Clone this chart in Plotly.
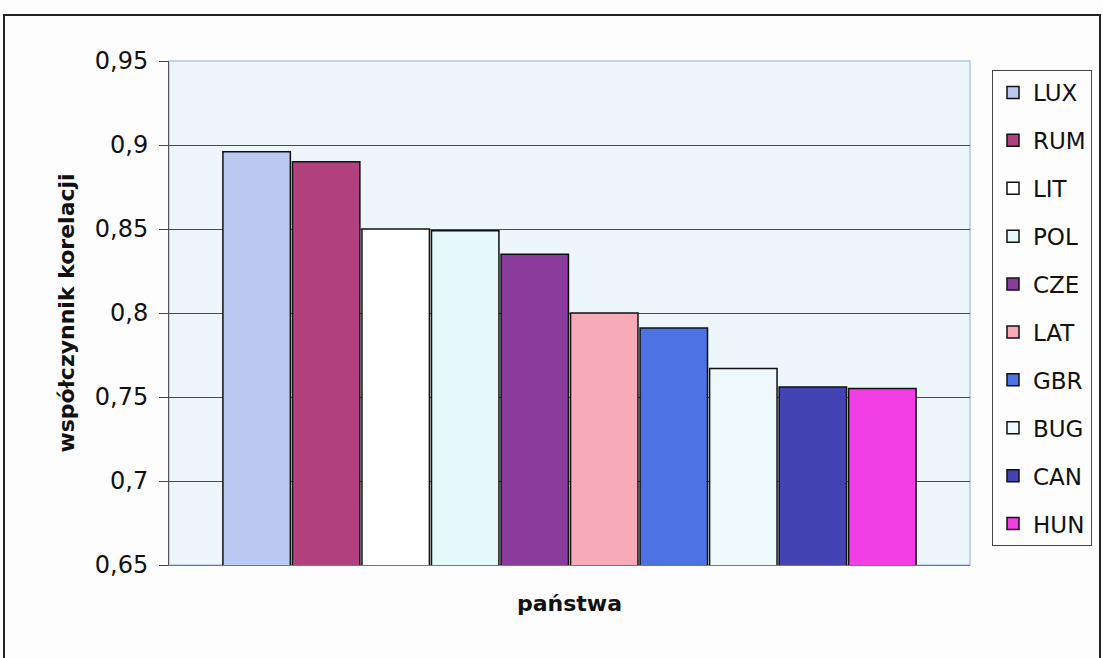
import plotly.graph_objects as go

# Correlation coefficient per country
countries = ["LUX", "RUM", "LIT", "POL", "CZE", "LAT", "GBR", "BUG", "CAN", "HUN"]
values = [0.896, 0.890, 0.850, 0.849, 0.835, 0.800, 0.791, 0.767, 0.756, 0.755]
colors = ["#b9c9f1", "#b1427f", "#ffffff", "#e6f9fa", "#8a3b9b",
          "#f7aab8", "#4d72e3", "#eef9fb", "#4343b3", "#f23fe3"]

y_ticks = [0.65, 0.7, 0.75, 0.8, 0.85, 0.9, 0.95]

fig = go.Figure()
for name, val, col in zip(countries, values, colors):
    fig.add_trace(go.Bar(
        x=["państwa"], y=[val], name=name, legendgroup=name,
        marker=dict(color=col, line=dict(color="#111111", width=1.5)),
    ))

W, H = 1103, 658
L, R, T, B = 169, 970, 61, 565

def px_x(p):
    return (p - L) / (R - L)

def px_y(p):
    return (B - p) / (B - T)

FONT = "DejaVu Sans, Arial, sans-serif"

fig.update_layout(
    width=W, height=H,
    margin=dict(l=L, r=W - R, t=T, b=H - B),
    paper_bgcolor="#fdfdfd",
    plot_bgcolor="#ecf6fb",
    separators=", ",
    barmode="group",
    bargap=0.132,
    bargroupgap=0.03,
    font=dict(family=FONT, size=24, color="#111111"),
    showlegend=True,
    legend=dict(
        xref="container", yref="container",
        x=992 / W, y=1 - 70 / H, xanchor="left", yanchor="top",
        bgcolor="#fdfdfd", bordercolor="#444444", borderwidth=1,
        font=dict(size=23), tracegroupgap=15, itemwidth=30,
        maxheight=560,
    ),
    xaxis=dict(
        showticklabels=False, ticks="", showgrid=False,
        showline=True, linecolor="#777777", linewidth=1,
        title=dict(text="<b>państwa</b>", font=dict(size=22), standoff=30),
    ),
    yaxis=dict(
        range=[0.65, 0.95], tickvals=y_ticks,
        ticks="outside", ticklen=9, tickcolor="#444444",
        showline=True, linecolor="#555555", linewidth=1,
        showgrid=True, gridcolor="#4a4a4a", gridwidth=1,
        tickfont=dict(size=24), ticklabelstandoff=6,
        title=dict(text="<b>współczynnik korelacji</b>", font=dict(size=22), standoff=14),
        zeroline=False,
    ),
    shapes=[
        dict(type="rect", xref="paper", yref="paper",
             x0=px_x(4), x1=px_x(1100), y0=px_y(670), y1=px_y(15),
             line=dict(color="#222222", width=2), fillcolor="rgba(0,0,0,0)",
             layer="below"),
        dict(type="rect", xref="paper", yref="paper",
             x0=0, x1=1, y0=0, y1=1,
             line=dict(color="#b4c6ea", width=1.5), fillcolor="rgba(0,0,0,0)",
             layer="below"),
    ],
)

fig.write_html("out.html")
